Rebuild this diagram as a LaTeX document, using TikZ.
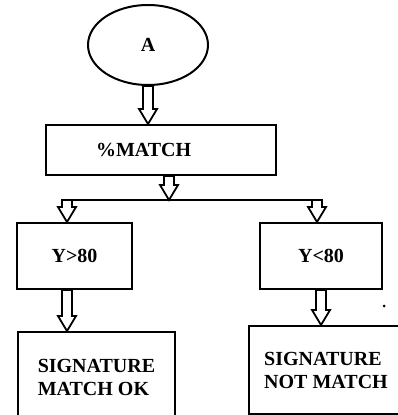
\documentclass[tikz,border=0pt]{standalone}
\usepackage{fontspec}
\setmainfont{Liberation Serif}
\usetikzlibrary{shapes.geometric, calc}
\tikzset{
    every node/.style={font=\fontsize{20}{23}\selectfont\bfseries}, % bold serif labels
    flowbox/.style={draw, rectangle, line width=2pt, align=left}, % the process boxes
    startnode/.style={draw, ellipse, line width=2pt}, % the start node
    blockarr/.style={draw, line width=1.8pt, fill=white, line join=miter}, % hollow arrows
    }
\newcommand{\hollowarrow}[2]{% hollow block arrow pointing down
  \draw[blockarr] let \p1=(#1), \p2=(#2) in
    (\x1-5pt,\y1) -- (\x1+5pt,\y1) -- (\x1+5pt,\y2+15pt) -- (\x1+9pt,\y2+15pt)
    -- (\x1,\y2) -- (\x1-9pt,\y2+15pt) -- (\x1-5pt,\y2+15pt) -- cycle;%
}
\begin{document}
\begin{tikzpicture}[x=1pt, y=-1pt]
            \useasboundingbox (0,0) rectangle (398,415);
            \node[startnode, minimum width=120pt, minimum height=80pt] (A) at (148,45) {A};
            \node[flowbox, minimum width=230pt, minimum height=50pt, text width=130pt, inner xsep=50pt] (match) at (161,150) {\%MATCH};
            \node[flowbox, minimum width=115pt, minimum height=66pt] (ygt) at (74.5,256) {Y>80};
            \node[flowbox, minimum width=122pt, minimum height=66pt] (ylt) at (321,256) {Y<80};
            \node[flowbox, minimum width=157pt, minimum height=90pt, anchor=north west] (sigok) at (17,331) {SIGNATURE\\MATCH OK};
            \node[flowbox, minimum width=154pt, minimum height=88pt, anchor=north west] (signot) at (248,325) {SIGNATURE\\NOT MATCH};
            % where the flow splits
            \coordinate (split) at (169,200);
            \coordinate (lsplit) at (67,200);
            \coordinate (rsplit) at (317,200);
            \hollowarrow{A.south}{A.south |- match.north}
            \hollowarrow{match.south -| split}{split}
            \draw[line width=1.8pt] ([xshift=-5pt]lsplit) -- ([xshift=5pt]rsplit);
            \hollowarrow{lsplit}{lsplit |- ygt.north}
            \hollowarrow{rsplit}{rsplit |- ylt.north}
            \hollowarrow{ygt.south -| lsplit}{lsplit |- sigok.north}
            \hollowarrow{ylt.south}{ylt.south |- signot.north}
            \fill (384,306) circle (1.5pt);
\end{tikzpicture}
\end{document}
